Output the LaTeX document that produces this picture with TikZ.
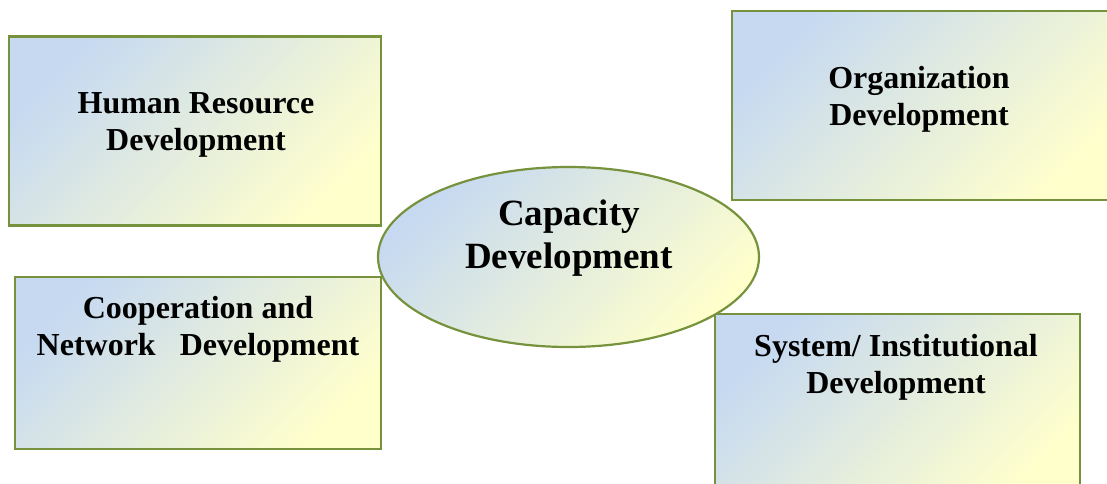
\documentclass[tikz,border=0pt]{standalone}
\usepackage{fontspec}
\setmainfont{Liberation Serif}
\usetikzlibrary{shapes.geometric}
\definecolor{bluefill}{HTML}{C6D9F1}
\definecolor{yellowfill}{HTML}{FFFFCC}
\definecolor{olivebd}{HTML}{76923C}
\tikzset{
  grad/.style={draw=olivebd, line width=2.2pt, shading=axis, top color=bluefill, bottom color=yellowfill, shading angle=45},
  lbl/.style={font=\bfseries\fontsize{32}{37}\selectfont, align=center, inner sep=0pt},
  biglbl/.style={font=\bfseries\fontsize{37}{43}\selectfont, align=center, inner sep=0pt}
}
\begin{document}
\begin{tikzpicture}[x=1pt, y=-1pt]
\useasboundingbox (0,0) rectangle (1107,483);
\clip (0,0) rectangle (1107,483);
\node[grad, rectangle, minimum width=372pt, minimum height=189pt, inner sep=0pt] (hr) at (195,131) {};
\node[grad, rectangle, minimum width=390pt, minimum height=189pt, inner sep=0pt] (org) at (927,105.5) {};
\node[grad, rectangle, minimum width=366pt, minimum height=172pt, inner sep=0pt] (coop) at (198,363) {};
\node[grad, rectangle, minimum width=365pt, minimum height=190pt, inner sep=0pt] (sys) at (897.5,409) {};
\node[grad, ellipse, minimum width=381pt, minimum height=180pt, inner sep=0pt] (cap) at (568.5,257) {};
\node[lbl] (hrt) at (196,125) {Human Resource\\Development};
\node[lbl] (orgt) at (919,99) {Organization\\Development};
\node[lbl] (coopt) at (198,329) {Cooperation and\\Network\ \ \ Development};
\node[lbl] (syst) at (896,367) {System/ Institutional\\Development};
\node[biglbl] (capt) at (569,238) {Capacity\\Development};
\end{tikzpicture}
\end{document}
